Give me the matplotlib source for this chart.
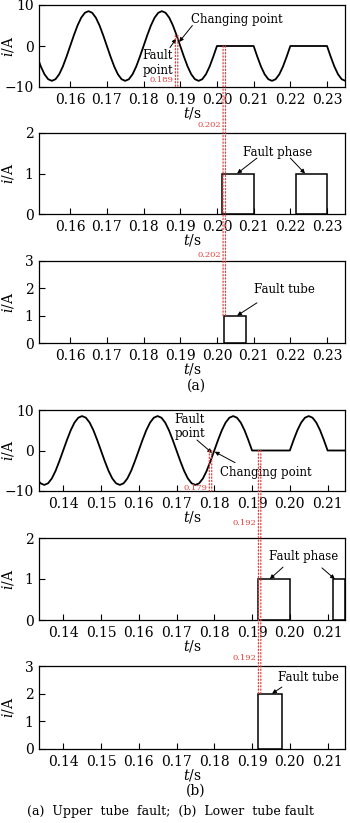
import numpy as np
import matplotlib
matplotlib.use('Agg')
import matplotlib.pyplot as plt
from matplotlib.patches import ConnectionPatch
from matplotlib.transforms import offset_copy

plt.rcParams['font.family'] = 'DejaVu Serif'
plt.rcParams['mathtext.fontset'] = 'dejavuserif'

W, H = 350, 823
RED = '#e0403c'

# ---- (a) upper tube fault ----
t_a = np.round(np.arange(0.151, 0.2355, 0.001), 3)
i_a = [-2.6, -5.0, -6.9, -8.1, -8.5, -8.1, -6.9, -5.0, -2.6,
       0,
       2.6, 5.0, 6.9, 8.1, 8.5, 8.1, 6.9, 5.0, 2.6,
       0,
       -2.6, -5.0, -6.9, -8.1, -8.5, -8.1, -6.9, -5.0, -2.6,
       0,
       2.6, 5.0, 6.9, 8.1, 8.5, 8.1, 6.9, 5.0, 2.6,
       0,
       -2.6, -5.0, -6.9, -8.1, -8.5, -8.1, -6.9, -5.0, -2.6,
       0, 0, 0, 0, 0, 0, 0, 0, 0, 0, 0,
       -2.6, -5.0, -6.9, -8.1, -8.5, -8.1, -6.9, -5.0, -2.6,
       0, 0, 0, 0, 0, 0, 0, 0, 0, 0, 0,
       -2.6, -5.0, -6.9, -8.1, -8.5]
phase_a_start = [0.2015, 0.2215]
phase_a_end = [0.210, 0.230]
phase_a_height = [1, 1]
tube_a_start = [0.202]
tube_a_end = [0.208]
tube_a_height = [1]
fault_a = 0.189
change_a = 0.202
xticks_a = [0.16, 0.17, 0.18, 0.19, 0.20, 0.21, 0.22, 0.23]
xlabels_a = ['0.16', '0.17', '0.18', '0.19', '0.20', '0.21', '0.22', '0.23']

# ---- (b) lower tube fault ----
t_b = np.round(np.arange(0.133, 0.2155, 0.001), 3)
i_b = [-6.9, -8.1, -8.5, -8.1, -6.9, -5.0, -2.6,
       0,
       2.6, 5.0, 6.9, 8.1, 8.5, 8.1, 6.9, 5.0, 2.6,
       0,
       -2.6, -5.0, -6.9, -8.1, -8.5, -8.1, -6.9, -5.0, -2.6,
       0,
       2.6, 5.0, 6.9, 8.1, 8.5, 8.1, 6.9, 5.0, 2.6,
       0,
       -2.6, -5.0, -6.9, -8.1, -8.5, -8.1, -6.9, -5.0, -2.6,
       0,
       2.6, 5.0, 6.9, 8.1, 8.5, 8.1, 6.9, 5.0, 2.6,
       0, 0, 0, 0, 0, 0, 0, 0, 0, 0, 0,
       2.6, 5.0, 6.9, 8.1, 8.5, 8.1, 6.9, 5.0, 2.6,
       0, 0, 0, 0, 0, 0]
phase_b_start = [0.1915, 0.2115]
phase_b_end = [0.200, 0.2145]
phase_b_height = [1, 1]
tube_b_start = [0.1917]
tube_b_end = [0.1978]
tube_b_height = [2]
fault_b = 0.179
change_b = 0.192
xticks_b = [0.14, 0.15, 0.16, 0.17, 0.18, 0.19, 0.20, 0.21]
xlabels_b = ['0.14', '0.15', '0.16', '0.17', '0.18', '0.19', '0.20', '0.21']

fig = plt.figure(figsize=(W / 100, H / 100), dpi=100)


def add_panel(top, bottom):
    return fig.add_axes([39 / W, 1 - bottom / H, 306 / W, (bottom - top) / H])


def style(ax, xlim, xticks, xlabels, ylim, yticks, ylabels):
    ax.set_xlim(xlim)
    ax.set_ylim(ylim)
    ax.set_xticks(xticks)
    ax.set_xticklabels(xlabels)
    ax.set_yticks(yticks)
    ax.set_yticklabels(ylabels)
    ax.tick_params(direction='in', length=4, width=0.8, labelsize=10, pad=4)
    for s in ax.spines.values():
        s.set_linewidth(0.9)
    ax.set_xlabel('$t$/s', fontsize=10)
    ax.set_ylabel('$i$/A', fontsize=10)
    ax.xaxis.set_label_coords(0.5, -0.22)
    ax.yaxis.set_label_coords(-0.075, 0.5)


def pulses(ax, start, end, height):
    ax.bar(start, height, width=np.subtract(end, start), align='edge',
           fill=False, edgecolor='k', linewidth=1.1)


def red_line(axA, xyA, axB, xyB):
    for dx in (-1.2, 1.2):
        con = ConnectionPatch(xyA=xyA, xyB=xyB,
                              coordsA=offset_copy(axA.transData, fig=fig, x=dx, units='dots'),
                              coordsB=offset_copy(axB.transData, fig=fig, x=dx, units='dots'),
                              color=RED, linestyle=':', linewidth=0.9)
        fig.add_artist(con)


def red_label(ax, x, ypix, txt):
    ax.annotate(txt, xy=(x, H - ypix), xycoords=('data', 'figure pixels'),
                xytext=(-2, 0), textcoords='offset points', ha='right',
                va='center', fontsize=6, color=RED, annotation_clip=False)


def arrow(ax, tip, tail):
    ax.annotate('', xy=tip, xytext=tail,
                arrowprops=dict(arrowstyle='-|>', color='k', lw=0.7,
                                mutation_scale=6, shrinkA=0, shrinkB=0))


# ================= (a) =================
ax1 = add_panel(5, 87)
ax2 = add_panel(133, 214)
ax3 = add_panel(261, 343)
ax1.plot(t_a, i_a, color='k', lw=1.3)
pulses(ax2, phase_a_start, phase_a_end, phase_a_height)
pulses(ax3, tube_a_start, tube_a_end, tube_a_height)
xl_a = (0.1515, 0.2349)
style(ax1, xl_a, xticks_a, xlabels_a, (-10, 10), [-10, 0, 10], ['\u221210', '0', '10'])
style(ax2, xl_a, xticks_a, xlabels_a, (0, 2), [0, 1, 2], ['0', '1', '2'])
style(ax3, xl_a, xticks_a, xlabels_a, (0, 3), [0, 1, 2, 3], ['0', '1', '2', '3'])

ya = np.interp(fault_a, t_a, i_a)
red_line(ax1, (fault_a, ya), ax1, (fault_a, -10))
red_line(ax1, (change_a, 0), ax3, (change_a, tube_a_height[0]))
red_label(ax1, fault_a, 80, '0.189')
red_label(ax1, change_a, 125, '0.202')
red_label(ax3, change_a, 255, '0.202')

ax1.text(0.2054, 6.4, 'Changing point', fontsize=8.5, ha='center', va='center')
arrow(ax1, (0.1897, 1.0), (0.1933, 5.0))
ax1.text(0.1839, -4.1, 'Fault\npoint', fontsize=8.5, ha='center', va='center',
         linespacing=1.15)
arrow(ax1, (0.1889, 1.8), (0.1872, -0.4))
ax2.text(0.2166, 1.53, 'Fault phase', fontsize=8.5, ha='center', va='center')
arrow(ax2, (0.2055, 1.0), (0.2109, 1.38))
arrow(ax2, (0.2240, 1.0), (0.2200, 1.38))
ax3.text(0.2183, 1.94, 'Fault tube', fontsize=8.5, ha='center', va='center')
arrow(ax3, (0.2055, 1.0), (0.2109, 1.47))
fig.text(196 / W, 1 - 386 / H, '(a)', fontsize=10, ha='center', va='center')

# ================= (b) =================
ax4 = add_panel(410, 491)
ax5 = add_panel(538, 620)
ax6 = add_panel(666, 749)
ax4.plot(t_b, i_b, color='k', lw=1.3)
pulses(ax5, phase_b_start, phase_b_end, phase_b_height)
pulses(ax6, tube_b_start, tube_b_end, tube_b_height)
xl_b = (0.1336, 0.2146)
style(ax4, xl_b, xticks_b, xlabels_b, (-10, 10), [-10, 0, 10], ['\u221210', '0', '10'])
style(ax5, xl_b, xticks_b, xlabels_b, (0, 2), [0, 1, 2], ['0', '1', '2'])
style(ax6, xl_b, xticks_b, xlabels_b, (0, 3), [0, 1, 2, 3], ['0', '1', '2', '3'])

red_line(ax4, (fault_b, 0), ax4, (fault_b, -10))
red_line(ax4, (change_b, 0), ax6, (change_b, tube_b_height[0]))
red_label(ax4, fault_b, 488, '0.179')
red_label(ax4, change_b, 523, '0.192')
red_label(ax6, change_b, 658, '0.192')

ax4.text(0.1735, 5.9, 'Fault\npoint', fontsize=8.5, ha='center', va='center',
         linespacing=1.15)
arrow(ax4, (0.1794, -0.6), (0.1754, 2.6))
ax4.text(0.1937, -5.5, 'Changing point', fontsize=8.5, ha='center', va='center')
arrow(ax4, (0.1801, -0.3), (0.1855, -3.0))
ax5.text(0.2036, 1.54, 'Fault phase', fontsize=8.5, ha='center', va='center')
arrow(ax5, (0.1947, 1.0), (0.1982, 1.29))
arrow(ax5, (0.2119, 1.0), (0.2085, 1.27))
ax6.text(0.2050, 2.6, 'Fault tube', fontsize=8.5, ha='center', va='center')
arrow(ax6, (0.1953, 2.0), (0.1979, 2.24))
fig.text(196 / W, 1 - 791 / H, '(b)', fontsize=10, ha='center', va='center')

fig.text(170 / W, 1 - 811 / H, '(a)  Upper  tube  fault;  (b)  Lower  tube fault',
         fontsize=9, ha='center', va='center')

fig.savefig('out.png', dpi=100)
